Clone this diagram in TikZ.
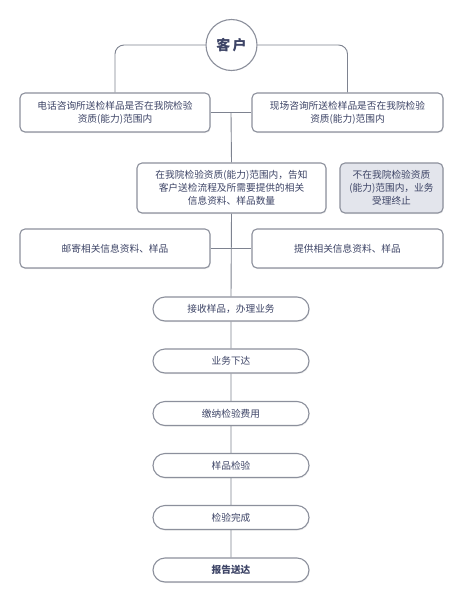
\documentclass[tikz,border=0pt]{standalone}
\usepackage{fontspec}
\setmainfont{Noto Sans CJK SC}
\usetikzlibrary{shapes.misc,shadows}
\definecolor{txt}{HTML}{3D4466}
\definecolor{bord}{HTML}{8C909C}
\definecolor{grayfill}{HTML}{E3E5EC}
\definecolor{linec}{HTML}{7E8390}
\begin{document}
\begin{tikzpicture}[x=1pt,y=-1pt,
  boxbase/.style={draw=bord,line width=1.1pt,fill=white,text=txt,align=center,
    font=\fontsize{9.7}{13}\selectfont,inner sep=0pt,
    drop shadow={opacity=0.12,shadow xshift=0.6pt,shadow yshift=-1.2pt}},
  rbox/.style={boxbase,rounded corners=5pt},
  stad/.style={boxbase,rounded rectangle,minimum width=156pt,minimum height=24pt},
  conn/.style={draw=linec,line width=0.9pt}]
\useasboundingbox (0,0) rectangle (462,600);
\fill[white] (0,0) rectangle (462,600);
% circle
\node[circle,draw=bord,line width=1.1pt,fill=white,text=txt,minimum size=51pt,inner sep=0pt,
  font=\fontsize{14}{16}\selectfont\bfseries] (kh) at (231.5,45) {客\,户};
% top boxes
\node[rbox,minimum width=190pt,minimum height=39pt] (b1) at (115,112.5) {电话咨询所送检样品是否在我院检验\\资质(能力)范围内};
\node[rbox,minimum width=191pt,minimum height=39pt] (b2) at (347.5,112.5) {现场咨询所送检样品是否在我院检验\\资质(能力)范围内};
\node[rbox,minimum width=189pt,minimum height=50pt] (b3) at (231.5,188) {在我院检验资质(能力)范围内，告知\\客户送检流程及所需要提供的相关\\信息资料、样品数量};
\node[rbox,fill=grayfill,minimum width=103pt,minimum height=50pt] (b4) at (391.5,188) {不在我院检验资质\\(能力)范围内，业务\\受理终止};
\node[rbox,minimum width=190pt,minimum height=39pt] (b5) at (115,248.5) {邮寄相关信息资料、样品};
\node[rbox,minimum width=191pt,minimum height=39pt] (b6) at (347.5,248.5) {提供相关信息资料、样品};
% stadiums
\node[stad] (s1) at (231,309) {接收样品，办理业务};
\node[stad] (s2) at (231,361) {业务下达};
\node[stad] (s3) at (231,413.5) {缴纳检验费用};
\node[stad] (s4) at (231,465.5) {样品检验};
\node[stad] (s5) at (231,517.5) {检验完成};
\node[stad,font=\fontsize{9.7}{13}\selectfont\bfseries] (s6) at (231,570) {报告送达};
% connectors
\coordinate (j1) at (231,112.5);
\begin{scope}[on background layer/.try]
\end{scope}
\draw[conn,rounded corners=9pt] (kh.west) -| (b1.north);
\draw[conn,rounded corners=9pt] (kh.east) -| (b2.north);
\draw[conn] (b1.east) -- (b2.west);
\draw[conn] (j1) -- (b3.north);
\draw[conn] (b5.east) -- (b6.west);
\draw[conn] (b3.south) -- (s1.north);
\draw[conn] (s1) -- (s2) (s2) -- (s3) (s3) -- (s4) (s4) -- (s5) (s5) -- (s6);
\end{tikzpicture}
\end{document}
